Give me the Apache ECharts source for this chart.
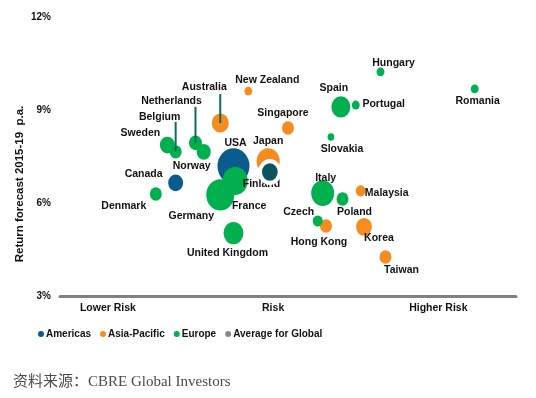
<!DOCTYPE html>
<html>
<head>
  <meta charset="utf-8">
  <title>Risk vs return forecast</title>
  <script src="https://cdn.jsdelivr.net/npm/echarts/dist/echarts.min.js"></script>
  <style>
    html, body { margin: 0; padding: 0; background: #fff; }
    #main { width: 536px; height: 398px; }
  </style>
</head>
<body>
<div id="main"></div>
<script>
  // [name, risk (1 = lower, 2 = risk, 3 = higher), return forecast %, market size]
  const americas = [
    ['USA', 1.76, 7.19, 114],
    ['Canada', 1.41, 6.65, 25]
  ];
  const asiaPacific = [
    ['New Zealand', 1.85, 9.61, 7],
    ['Australia', 1.68, 8.58, 32],
    ['Singapore', 2.09, 8.42, 16],
    ['Japan', 1.97, 7.35, 59],
    ['Malaysia', 2.53, 6.39, 11],
    ['Hong Kong', 2.32, 5.26, 16],
    ['Korea', 2.55, 5.23, 28],
    ['Taiwan', 2.68, 4.26, 16]
  ];
  const europe = [
    ['Hungary', 2.65, 10.23, 7],
    ['Romania', 3.22, 9.68, 7],
    ['Spain', 2.41, 9.10, 40],
    ['Portugal', 2.50, 9.16, 7],
    ['Slovakia', 2.35, 8.13, 5],
    ['Sweden', 1.36, 7.87, 25],
    ['Belgium', 1.41, 7.65, 16],
    ['Netherlands', 1.53, 7.94, 19],
    ['Norway', 1.58, 7.65, 22],
    ['Finland', 1.79, 6.87, 22],
    ['France', 1.77, 6.71, 70],
    ['Germany', 1.68, 6.26, 87],
    ['Denmark', 1.29, 6.29, 16],
    ['United Kingdom', 1.76, 5.03, 44],
    ['Italy', 2.30, 6.32, 59],
    ['Poland', 2.42, 6.13, 16],
    ['Czech', 2.27, 5.42, 11]
  ];
  const globalAvg = [
    ['Average', 1.98, 7.00, 42]
  ];

  const riskTicks = [1, 2, 3];
  const riskLabels = ['Lower Risk', 'Risk', 'Higher Risk'];
  const yTitle = 'Return forecast 2015-19  p.a.';

  // label placement relative to bubble centre
  const labelOffsets = {
    'USA': [2, -23], 'Canada': [-32, -9],
    'New Zealand': [19, -11], 'Australia': [-16, -36], 'Singapore': [-5, -15],
    'Japan': [0, -20], 'Malaysia': [26, 2], 'Hong Kong': [-7, 16],
    'Korea': [15, 11], 'Taiwan': [16, 13],
    'Hungary': [13, -9], 'Romania': [3, 12], 'Spain': [-7, -19],
    'Portugal': [28, -1], 'Slovakia': [11, 12], 'Sweden': [-27, -12],
    'Belgium': [-16, -35], 'Netherlands': [-24, -42], 'Norway': [-12, 14],
    'Finland': [23, 8], 'France': [14, 25], 'Germany': [-29, 21],
    'Denmark': [-32, 12], 'United Kingdom': [-6, 20], 'Italy': [3, -15],
    'Poland': [12, 13], 'Czech': [-19, -9]
  };
  // leader line length (px) drawn up from the bubble
  const leaderLength = { 'Australia': 29, 'Netherlands': 36, 'Belgium': 30 };

  const groups = [
    { name: 'Americas', data: americas, color: '#0b5c8e' },
    { name: 'Asia-Pacific', data: asiaPacific, color: '#f68b1f' },
    { name: 'Europe', data: europe, color: '#00b04f' },
    { name: 'Average for Global', data: globalAvg, color: '#0f5262', legendColor: '#7f8a8c' }
  ];

  const allPoints = americas.concat(asiaPacific, europe);
  const leaderData = Object.keys(leaderLength).map(n => {
    const d = allPoints.find(p => p[0] === n);
    return [d[1], d[2], leaderLength[n]];
  });

  const font = 'Liberation Sans, Arial, sans-serif';

  const chart = echarts.init(document.getElementById('main'));

  const bubbleSeries = groups.map((g, si) => ({
    name: g.name,
    type: 'scatter',
    z: si + 2,
    data: g.data.map(d => ({ name: d[0], value: [d[1], d[2], d[3]] })),
    symbolSize: v => {
      const s = Math.sqrt(v[2]) * 3;
      return [s, s * 1.12];
    },
    itemStyle: g.legendColor
      ? { color: g.color, opacity: 1, borderColor: '#fff', borderWidth: 4 }
      : { color: g.color, opacity: 1 },
    label: {
      show: !g.legendColor,
      position: 'inside',
      formatter: p => p.name,
      fontFamily: font,
      fontSize: 10.5,
      fontWeight: 'bold',
      color: '#111'
    },
    labelLayout: p => {
      const item = groups[p.seriesIndex].data[p.dataIndex];
      const o = labelOffsets[item[0]] || [0, 0];
      return { dx: o[0], dy: o[1] };
    },
    emphasis: { disabled: true }
  }));

  chart.setOption({
    animation: false,
    textStyle: { fontFamily: font },
    grid: { left: 60, right: 20, top: 17, bottom: 102 },
    title: {
      text: '资料来源：CBRE Global Investors',
      left: 8,
      top: 370,
      textStyle: {
        fontFamily: 'Liberation Serif, Noto Sans CJK SC, serif',
        fontWeight: 'normal',
        fontSize: 15,
        color: '#4a4a4a'
      }
    },
    graphic: [{
      type: 'text',
      x: 20,
      y: 184,
      rotation: Math.PI / 2,
      style: {
        text: yTitle,
        align: 'center',
        verticalAlign: 'middle',
        font: 'bold 11.5px ' + font,
        fill: '#111'
      }
    }],
    legend: {
      left: 38,
      top: 329,
      padding: 0,
      itemWidth: 6,
      itemHeight: 6,
      itemGap: 9,
      icon: 'circle',
      textStyle: { fontFamily: font, fontSize: 10, fontWeight: 'bold', color: '#111', padding: [0, 0, 0, -3] },
      data: groups.map(g => ({
        name: g.name,
        itemStyle: { color: g.legendColor || g.color, borderWidth: 0 }
      }))
    },
    xAxis: {
      type: 'value',
      min: 0.71,
      max: 3.47,
      splitLine: { show: false },
      axisTick: { show: false },
      axisLine: { show: true, lineStyle: { color: '#808080', width: 3 } },
      axisLabel: {
        customValues: riskTicks,
        margin: 7,
        fontSize: 10.5,
        fontWeight: 'bold',
        color: '#111',
        formatter: v => riskLabels[riskTicks.indexOf(v)] || ''
      }
    },
    yAxis: {
      type: 'value',
      min: 3,
      max: 12,
      interval: 3,
      splitLine: { show: false },
      axisTick: { show: false },
      axisLine: { show: false },
      axisLabel: {
        margin: 9,
        fontSize: 10,
        fontWeight: 'bold',
        color: '#111',
        formatter: '{value}%'
      }
    },
    series: bubbleSeries.concat([{
      type: 'custom',
      z: 10,
      silent: true,
      data: leaderData,
      renderItem: (params, api) => {
        const p = api.coord([api.value(0), api.value(1)]);
        return {
          type: 'line',
          shape: { x1: p[0], y1: p[1], x2: p[0], y2: p[1] - api.value(2) },
          style: { stroke: '#0b6b55', lineWidth: 2 }
        };
      }
    }])
  });
</script>
</body>
</html>
